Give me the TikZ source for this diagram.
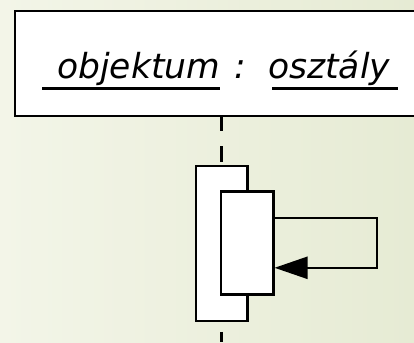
\documentclass[tikz,border=0pt]{standalone}
\usepackage{fontspec}
\setmainfont{DejaVu Sans}
\usetikzlibrary{arrows.meta}
\definecolor{bgleft}{RGB}{243,245,232}
\definecolor{bgright}{RGB}{230,235,212}
\newcommand{\hdrfont}{\fontsize{34.5}{38}\selectfont\itshape}

\begin{document}
\begin{tikzpicture}[x=1pt, y=-1pt,
  box/.style={draw, fill=white, line width=2.4pt, inner sep=0pt},
  lbl/.style={inner sep=0pt, font=\hdrfont},
  uline/.style={line width=2.2pt},
  life/.style={line width=2.2pt},
  msg/.style={line width=2.4pt, -{Triangle[length=33pt, width=22pt]}}]
\useasboundingbox (0,0) rectangle (414,342);
\clip (0,0) rectangle (414,342);
\shade[left color=bgleft, right color=bgright] (0,0) rectangle (414,342);
\node[box, anchor=north west, minimum width=430pt, minimum height=105pt] (hdr) at (14,10) {};
\node[lbl, anchor=base west] (obj) at (57,79) {objektum};
\node[lbl, anchor=base] (colon) at (240,79) {:};
\node[lbl, anchor=base west] (cls) at (268,79) {osztály};
\draw[uline] ([xshift=-15pt, yshift=-9.5pt]obj.base west) -- ([yshift=-9.5pt]obj.base east);
\draw[uline] ([xshift=4pt, yshift=-9.5pt]cls.base west) -- ([xshift=8pt, yshift=-9.5pt]cls.base east);
\node[box, minimum width=51.6pt, minimum height=155pt] (outer) at (221.5,243.2) {};
\node[box, minimum width=52.3pt, minimum height=103pt] (inner) at (247.2,242.8) {};
\coordinate (bot) at (221.5,342);
\draw[life, dash pattern=on 14pt off 15pt on 16pt off 10pt] (outer.north |- hdr.south) -- (outer.north);
\draw[life, dash pattern=on 15pt off 10pt, dash phase=15pt] (outer.south) -- (bot);
\coordinate (lt) at (376.7,217.8);
\coordinate (lb) at (376.7,267.8);
\draw[msg] ([yshift=25pt]inner.east) -- (lt) -- (lb) -- ([yshift=-25pt]inner.east);
\end{tikzpicture}
\end{document}
